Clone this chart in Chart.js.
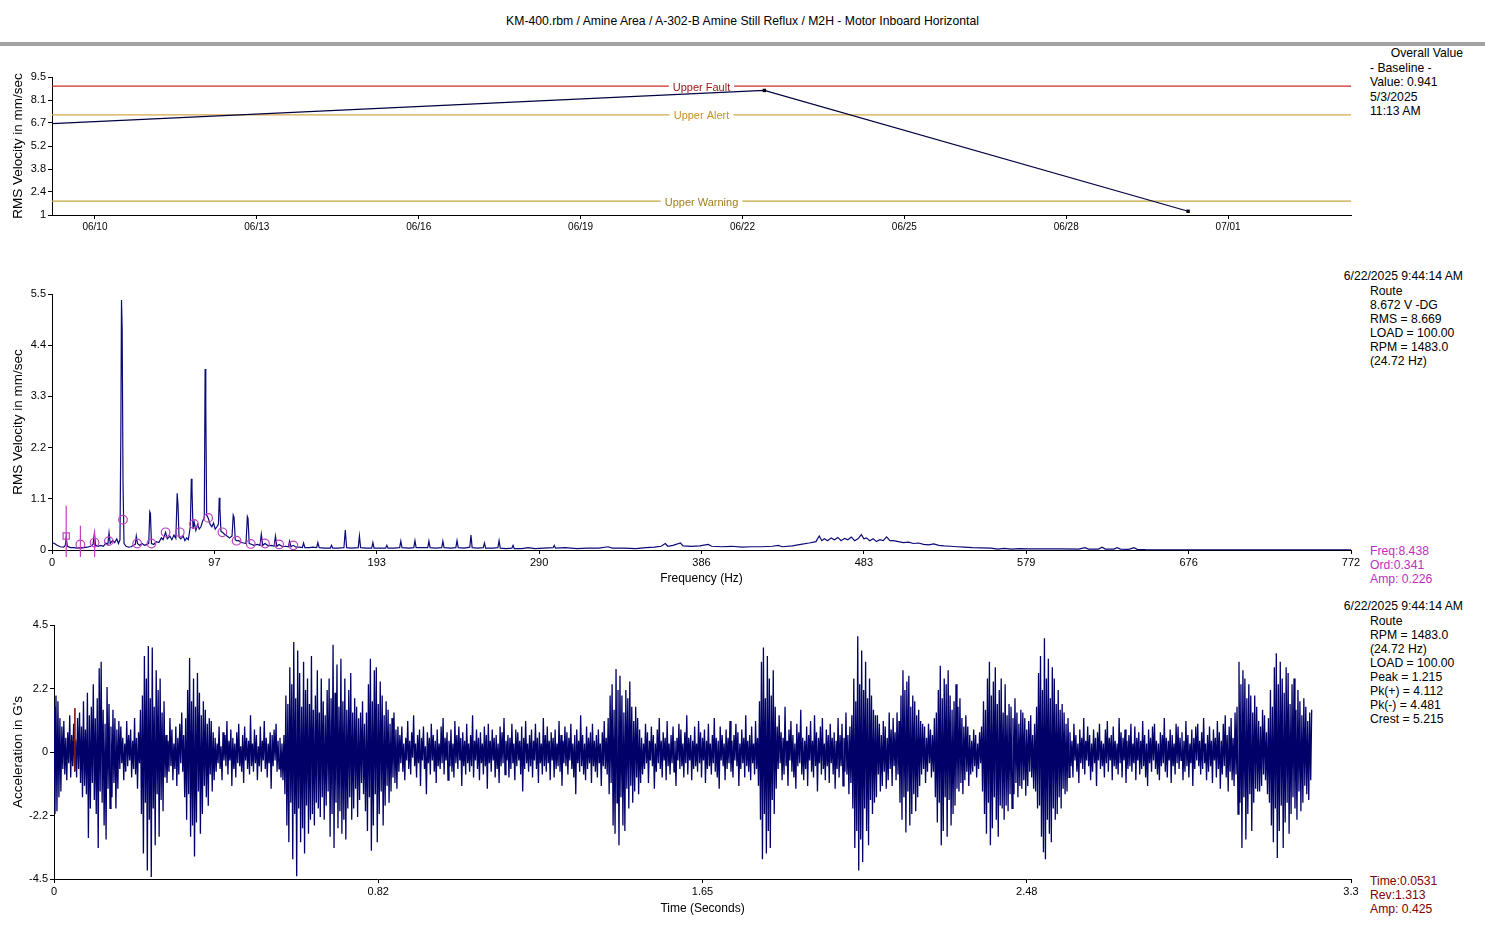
<!DOCTYPE html>
<html>
<head>
<meta charset="utf-8">
<script src="https://cdn.jsdelivr.net/npm/chart.js@4.4.1/dist/chart.umd.min.js"></script>
<style>
  body { margin: 0; background: #fff; width: 1485px; height: 951px; overflow: hidden; position: relative;
         font-family: 'Liberation Sans', Arial, sans-serif; font-size: 12.2px; color: #000; }
  canvas { position: absolute; left: 0; }
  .t { position: absolute; white-space: nowrap; line-height: 14px; }
  #bar { position: absolute; left: 0; top: 42px; width: 1485px; height: 4px; background: #a3a3a3; }
</style>
</head>
<body>
<div class="t" style="left:0;width:1485px;text-align:center;top:14px">KM-400.rbm / Amine Area / A-302-B Amine Still Reflux / M2H - Motor Inboard Horizontal</div>
<div id="bar"></div>

<div class="t" style="right:22px;top:46px">Overall Value</div>
<div class="t" style="left:1370px;top:61px;line-height:14.3px">- Baseline -<br>Value: 0.941<br>5/3/2025<br>11:13 AM</div>

<div class="t" style="right:22px;top:269px">6/22/2025 9:44:14 AM</div>
<div class="t" style="left:1370px;top:284px">Route<br>8.672 V -DG<br>RMS = 8.669<br>LOAD = 100.00<br>RPM = 1483.0<br>(24.72 Hz)</div>
<div class="t" style="left:1370px;top:544px;color:#c030c0">Freq:8.438<br>Ord:0.341<br>Amp: 0.226</div>

<div class="t" style="right:22px;top:599px">6/22/2025 9:44:14 AM</div>
<div class="t" style="left:1370px;top:614px">Route<br>RPM = 1483.0<br>(24.72 Hz)<br>LOAD = 100.00<br>Peak = 1.215<br>Pk(+) = 4.112<br>Pk(-) = 4.481<br>Crest = 5.215</div>
<div class="t" style="left:1370px;top:874px;color:#800000">Time:0.0531<br>Rev:1.313<br>Amp: 0.425</div>

<canvas id="trend" width="1485" height="240" style="top:0"></canvas>
<canvas id="spec" width="1485" height="330" style="top:260px"></canvas>
<canvas id="wave" width="1485" height="330" style="top:600px"></canvas>

<script>
// ---- overall value trend ----
const trendDates = ["2025-05-03T11:13:00", "2025-06-22T09:44:14", "2025-06-30T06:13:00"];
const trendValues = [0.941, 8.672, 1.23];
const trendRange = ["2025-06-09T04:54:00", "2025-07-03T06:40:00"];
const trendTickDates = ["2025-06-10", "2025-06-13", "2025-06-16", "2025-06-19", "2025-06-22", "2025-06-25", "2025-06-28", "2025-07-01"];
const trendTickLabels = ["06/10", "06/13", "06/16", "06/19", "06/22", "06/25", "06/28", "07/01"];
const trendYTicks = [1, 2.4167, 3.8333, 5.25, 6.6667, 8.0833, 9.5];
const trendYLabels = ["1", "2.4", "3.8", "5.2", "6.7", "8.1", "9.5"];
const alarmNames = ["Upper Fault", "Upper Alert", "Upper Warning"];
const alarmLevels = [8.94, 7.17, 1.85];
const alarmColors = ["#cc2a2a", "#d6a84a", "#c4a440"];
const alarmTextColors = ["#a01818", "#c8901e", "#a08018"];

// ---- spectrum [Hz, mm/sec] ----
const spectrum = [
  [0,0.16],[1.5,0.14],[3,0.1],[5,0.07],[7,0.06],[7.9,0.1],[8.44,0.28],[9.1,0.08],[11,0.05],[13,0.05],
  [15,0.04],[17,0.05],[19,0.05],[21,0.06],[23,0.08],[24.4,0.12],[25.2,0.36],[25.9,0.1],[27.5,0.08],[29,0.1],
  [30.5,0.08],[32,0.15],[33.2,0.12],[33.9,0.37],[34.6,0.14],[36,0.2],[37.2,0.16],[38.5,0.24],[39.5,0.14],[40.4,0.22],
  [40.9,2.45],[41.3,5.37],[41.7,4.75],[42.2,1.45],[42.8,0.14],[44,0.08],[45.5,0.06],[47,0.07],[48.5,0.1],[49.5,0.12],
  [50.1,0.3],[50.8,0.14],[52,0.1],[53.5,0.14],[55,0.1],[56.5,0.12],[57.5,0.14],[58.1,0.82],[58.5,0.78],[59.1,0.14],
  [60.5,0.12],[62,0.18],[63.5,0.16],[65,0.26],[66,0.22],[67.5,0.38],[68.5,0.24],[70,0.3],[71.2,0.22],[72.5,0.32],
  [73.6,0.25],[74.4,1.22],[74.9,0.95],[75.5,0.28],[76.5,0.24],[78,0.3],[79,0.2],[80,0.26],[81,0.22],[82.2,0.5],
  [82.8,1.53],[83.2,1.3],[83.8,0.45],[84.5,0.6],[85.5,0.42],[86.5,0.55],[87.5,0.45],[88.5,0.5],[89.5,0.62],[90.5,0.7],
  [91,3.89],[91.4,3.1],[91.9,0.75],[92.8,0.69],[94,0.55],[95,0.5],[96,0.58],[97,0.45],[98,0.5],[98.9,0.55],
  [99.4,1.12],[99.8,0.9],[100.4,0.4],[101.3,0.38],[102.5,0.34],[104,0.3],[105.5,0.26],[107,0.3],[107.7,0.75],[108.2,0.7],
  [108.9,0.22],[109.7,0.2],[111,0.2],[112.5,0.16],[114,0.15],[115.3,0.14],[116.1,0.72],[116.5,0.68],[117.2,0.14],[118.1,0.13],
  [120,0.1],[122,0.12],[123.6,0.1],[124.4,0.34],[125.2,0.1],[126.6,0.14],[128.5,0.09],[130.5,0.1],[132,0.08],[132.8,0.3],
  [133.6,0.08],[135,0.12],[137,0.07],[139,0.08],[140.5,0.07],[141.2,0.19],[142,0.07],[143.4,0.1],[145,0.06],[147,0.06],
  [148.8,0.05],[149.5,0.15],[150.3,0.05],[153,0.05],[155,0.06],[157.3,0.05],[158,0.16],[158.8,0.05],[162,0.04],[165.4,0.04],
  [166.1,0.1],[166.8,0.04],[170,0.04],[173.5,0.05],[174.3,0.43],[175.1,0.05],[178,0.04],[182,0.05],[182.7,0.3],[183.4,0.05],
  [187,0.04],[190,0.04],[190.7,0.16],[191.4,0.04],[195,0.04],[198.3,0.04],[199,0.1],[199.7,0.04],[203,0.04],[206.6,0.05],
  [207.3,0.19],[208,0.05],[212,0.04],[215,0.05],[215.7,0.2],[216.4,0.05],[220,0.05],[223.3,0.05],[224,0.19],[224.7,0.05],
  [228,0.04],[231.6,0.05],[232.3,0.19],[233,0.05],[237,0.04],[240,0.05],[240.7,0.2],[241.4,0.05],[245,0.04],[248.3,0.06],
  [249,0.32],[249.7,0.05],[253,0.04],[256.3,0.05],[257,0.15],[257.7,0.04],[262,0.04],[265,0.05],[265.7,0.2],[266.4,0.04],
  [270,0.03],[273.3,0.04],[274,0.1],[274.7,0.03],[279,0.03],[283,0.05],[287,0.03],[292,0.04],[297.8,0.05],[298.5,0.1],
  [299.2,0.04],[305,0.05],[312,0.03],[318,0.04],[325,0.04],[330.5,0.07],[333,0.04],[340,0.04],[347,0.03],[353,0.05],
  [358,0.06],[362,0.08],[364.5,0.14],[366,0.08],[369,0.1],[373.5,0.15],[375,0.09],[380,0.08],[385,0.09],[390,0.12],
  [392,0.08],[398,0.07],[404,0.08],[410,0.06],[416,0.07],[422,0.07],[428,0.08],[431.7,0.1],[434,0.07],[440,0.09],
  [445,0.12],[450,0.15],[454,0.18],[456,0.3],[457.5,0.2],[459,0.24],[461,0.2],[463,0.26],[465,0.22],[467,0.27],
  [469,0.2],[471,0.25],[473,0.22],[475,0.28],[477,0.2],[479,0.24],[481,0.33],[482.5,0.24],[484,0.26],[486,0.2],
  [488,0.24],[490,0.18],[492,0.22],[494,0.2],[496,0.28],[498,0.2],[500,0.2],[503,0.18],[506,0.16],[509,0.17],
  [512,0.14],[515,0.15],[518,0.12],[521,0.11],[524,0.13],[527,0.1],[530,0.09],[534,0.08],[538,0.07],[542,0.06],
  [547,0.05],[552,0.045],[558,0.04],[562,0.02],[566,0.035],[570,0.02],[575,0.03],[580,0.025],[590,0.025],[600,0.025],
  [610,0.02],[614,0.05],[616,0.02],[622,0.02],[624,0.06],[626,0.02],[631,0.02],[633,0.05],[635,0.02],[640,0.015],
  [643,0.05],[645,0.015],[650,0.01],[700,0.005],[772,0.005]
];
const specXTicks = [0, 96.5, 193, 289.5, 386, 482.5, 579, 675.5, 772];
const specXLabels = ["0", "97", "193", "290", "386", "483", "579", "676", "772"];
const specYTicks = [0, 1.1, 2.2, 3.3, 4.4, 5.5];
const specYLabels = ["0", "1.1", "2.2", "3.3", "4.4", "5.5"];
// harmonic cursor of 8.438 Hz
const harmonicHz = [8.44, 16.88, 25.31, 33.75, 42.19, 50.63, 59.07, 67.5, 75.94, 84.38, 92.82, 101.26, 109.69, 118.13, 126.57, 135.01, 143.45];
const harmonicAmp = [0.30, 0.12, 0.16, 0.19, 0.65, 0.14, 0.14, 0.38, 0.38, 0.56, 0.69, 0.38, 0.2, 0.13, 0.14, 0.12, 0.1];
const harmonicBarTop = [0.95, 0.52, 0.42];
const harmonicBarBottom = -0.15;

// ---- time waveform (G's), one sample every sampleDt seconds ----
const sampleDt = 0.0025;
const accel = [
  1.6,-2.2,2.0,-2.1,1.8,-1.6,1.2,-1.4,
  .9,-.6,1.1,-.8,.5,-1.0,.7,-.4,1.3,-.9,.6,-.5,1.0,-.7,.4,-.9,1.2,-.6,
  1.4,-1.1,.9,-1.6,1.8,-1.2,.8,-1.5,2.1,-3.05,1.3,-2.0,1.6,-1.1,2.4,-1.7,1.2,-2.2,1.9,-3.4,
  2.97,-1.4,3.2,-1.8,1.5,-2.6,1.0,-3.1,2.3,-1.3,1.7,-2.0,.9,-1.6,1.5,-1.1,1.2,-2.0,.8,-1.3,1.1,
  -.6,.9,-.4,.5,-1.0,.3,-.7,1.1,-.5,.6,-.3,.8,-.9,.4,-.6,1.2,-.8,.5,-1.3,.7,-.4,
  1.5,-2.2,2.0,-3.6,3.4,-1.8,2.6,-4.2,3.76,-2.4,1.9,-4.43,3.7,-2.0,1.6,-3.3,2.9,-1.5,2.2,-3.0,2.6,-1.7,1.4,-2.1,1.8,
  -.9,.6,-1.1,.4,-.7,1.2,-.5,.8,-1.0,.3,-.6,.9,-1.2,.5,-.8,1.0,-.4,1.4,-.7,.6,
  -1.6,1.2,-2.4,2.2,-1.5,3.33,-3.0,1.8,-2.6,2.6,-3.7,1.6,-2.5,2.8,-1.4,2.1,-2.9,1.3,-2.2,1.8,
  -1.2,1.5,-1.6,1.0,-1.9,1.2,-.8,1.1,-1.4,.7,-1.0,
  .5,-.7,.3,-.4,.9,-.6,.2,-1.0,.7,-.3,.6,-.5,1.1,-.8,.4,-.3,.8,-1.2,.5,-.6,
  .3,-.9,.7,-.4,1.0,-.5,.2,-.7,.6,-1.1,.9,-.3,.5,-.6,.4,-.8,1.3,-.5,.3,-.7,
  .8,-.4,.6,-1.0,.2,-.5,.9,-.7,.4,-.3,1.1,-.6,.5,-.9,.3,-.4,.7,-1.3,.6,-.5,
  .8,-.3,1.0,-.7,.4,-.6,.5,-.9,.3,-1.0,.6,
  -1.5,2.0,-2.6,1.7,-3.2,3.0,-1.8,2.4,-3.8,3.9,-2.2,1.9,-4.4,3.6,-2.0,2.8,-3.2,1.6,-2.7,3.2,
  -3.6,2.2,-1.9,2.6,-2.9,1.7,-2.4,3.4,-2.2,1.5,-2.6,2.0,-1.8,2.9,-2.0,1.4,-2.3,2.6,-1.6,1.8,
  -2.4,1.3,-1.9,2.2,-1.4,2.6,
  -3.0,1.9,-2.2,3.8,-3.4,2.1,-1.8,3.1,-2.7,1.6,-2.1,3.3,-2.9,1.8,-2.4,2.6,-3.1,1.5,-2.0,2.2,
  -1.6,2.8,-2.4,1.4,-2.0,1.9,-1.3,1.6,-2.3,1.2,-1.7,1.4,-1.1,1.8,-1.5,1.0,
  -2.1,1.4,-2.8,2.4,-1.6,3.3,-3.5,1.8,-2.6,2.9,-1.5,3.0,-3.2,1.7,-2.2,2.5,-1.4,2.0,-2.6,1.3,
  -1.9,1.8,-1.2,1.5,-1.8,1.0,-1.4,1.2,-.9,1.4,-1.1,.8,-1.3,.9,-.7,
  .6,-.4,.9,-.7,.3,-1.0,.5,-.3,1.1,-.6,.4,-.8,.7,-.2,1.3,-.5,.3,-.9,.6,-.4,
  .8,-1.2,.5,-.3,.9,-.6,.2,-1.5,.7,-.4,.5,-.8,1.0,-.3,.6,-.7,.4,-1.1,.8,-.5,
  .3,-.6,.9,-.4,1.2,-.8,.5,-.3,.7,-1.0,.4,-.5,.8,-.7,.3,-.9,1.1,-.4,.6,-.6,
  .9,-.3,.5,-1.2,.7,-.5,.4,-.8,1.0,-.4,.3,-.7,.6,-.5,1.3,-.9,.4,-.3,.8,-.6,
  .5,-1.0,.7,-.4,.3,-.8,.9,-.5,.6,-1.3,1.0,-.4,.4,-.7,.8,-.3,.5,-.9,.6,-.6,
  .3,-1.1,.9,-.5,.7,-.4,1.2,-.8,.4,-.3,.6,-.9,.5,-.6,1.0,-.4,.3,-1.0,.8,-.5,
  .7,-.3,.4,-.8,.9,-1.4,.5,-.6,1.1,-.4,.3,-.7,.6,-.5,.8,-.9,.4,-.3,1.0,-.6,
  .5,-1.1,.7,-.4,.3,-.8,1.2,-.5,.6,-.7,.9,-.4,.4,-1.0,.7,-.3,.5,-.9,.8,-.6,
  .3,-.5,1.1,-.7,.6,-1.2,.4,-.4,.9,-.5,.7,-.8,.5,-.3,1.0,-.6,.3,-.9,.6,-1.5,
  .8,-.4,.4,-.7,1.3,-.5,.6,-.8,.3,-1.0,.9,-.6,.5,-.4,.7,-1.1,1.0,-.5,.4,-.7,
  .6,-.9,.8,-.4,.3,-1.2,.7,-.5,1.1,-.6,.5,-.8,
  1.2,-1.5,2.0,-1.1,2.4,-2.6,1.5,-2.9,2.94,-1.8,2.2,-3.3,2.7,-1.6,2.0,-2.6,1.4,-2.8,2.2,-1.3,
  1.9,-2.0,2.5,-1.2,1.6,-1.8,1.1,-1.4,1.6,-.9,1.2,-1.5,.8,-1.1,
  .5,-.8,.3,-.6,1.0,-.4,.7,-1.1,.4,-.3,.9,-.5,.6,-1.3,.3,-.7,.8,-.4,1.2,-.6,
  .4,-.9,.7,-.3,.5,-1.0,1.1,-.5,.3,-.8,.6,-.4,.9,-.7,.4,-1.2,.5,-.3,1.0,-.6,
  .8,-.5,.3,-.9,.7,-.4,1.3,-.8,.5,-.3,.6,-1.0,.4,-.6,.9,-.5,.3,-.7,1.1,-.4,
  .7,-.9,.5,-.3,.8,-1.1,.4,-.6,1.0,-.5,.3,-.8,.6,-.4,1.2,-.7,.5,-.9,.4,-1.3,
  .9,-.3,.6,-.5,.3,-1.0,.8,-.6,.5,-.4,1.1,-.7,.4,-.9,.6,-.3,1.0,-.5,.7,-1.2,
  .3,-.6,.8,-.4,.5,-.9,1.3,-.5,.4,-.7,.6,-1.0,.9,-.4,.3,-.8,1.1,-.6,.5,-1.2,
  1.8,-2.4,3.2,-3.8,3.7,-2.2,1.9,-3.6,3.4,-2.8,2.6,-3.4,2.0,-1.7,2.9,-2.2,1.6,-1.3,
  .9,-.6,1.3,-.4,.7,-1.0,.5,-.8,1.6,-.5,.4,-1.2,.8,-.3,1.1,-.7,.6,-.9,.3,-1.3,
  1.0,-.5,.7,-.4,1.5,-.8,.5,-1.0,.4,-.6,.9,-1.2,.6,-.3,1.1,-.7,.4,-.9,1.3,-.5,
  .7,-1.4,.5,-.4,.9,-.8,1.2,-.6,.3,-1.0,.8,-.5,.6,-1.1,1.0,-.4,.5,-.8,.7,-1.3,
  .4,-.6,1.2,-.9,.6,-.5,1.0,-1.2,.5,-.7,1.4,-.8,.6,-1.5,.9,-1.1,1.3,
  -2.0,2.6,-3.4,1.8,-2.8,4.1,-4.2,2.4,-3.1,3.6,-3.9,2.2,-2.0,3.2,-2.8,1.9,-3.3,2.6,-1.7,2.0,
  -2.2,1.5,-1.8,1.3,-1.6,
  1.3,-.8,1.0,-1.4,.6,-1.2,1.1,-.7,.9,-1.3,.5,-1.0,1.4,-.6,.8,-1.2,1.2,-.5,.7,-1.0,1.4,-.8,1.1,
  -1.8,2.0,-2.4,2.9,-1.6,2.2,-2.85,2.5,-1.4,2.7,-2.6,1.6,-2.2,2.0,-1.5,1.8,-2.1,1.3,-1.6,1.5,-1.2,1.1,
  -.8,1.0,-.6,.9,-1.1,.5,-.7,1.0,-.4,.8,-.9,.6,-.7,1.2,
  -1.6,1.4,-2.5,2.2,-1.8,3.06,-3.3,1.9,-2.8,2.6,-1.6,2.4,-3.0,2.9,-1.7,2.0,-2.6,1.5,-2.2,1.8,
  -1.9,2.4,-1.3,1.6,-1.4,1.9,-1.1,1.2,-1.5,.9,-1.0,1.3,-.7,.9,-1.2,
  .6,-.8,.4,-.7,.8,-.5,.6,-.9,.3,-.6,.7,-.4,.9,
  -1.4,1.8,-2.2,1.5,-2.9,2.6,-1.8,3.2,-3.3,2.0,-2.7,2.5,-1.6,3.0,-2.4,1.7,-3.0,2.2,-1.9,2.6,
  -2.0,1.4,-2.4,2.4,-1.9,1.3,-2.1,1.7,-1.5,1.6,-2.0,1.2,-1.5,1.9,-1.1,1.4,-1.6,1.0,-1.2,1.5,-1.3,
  1.4,-1.0,1.2,-1.55,.8,-1.2,1.1,-.7,1.3,-.9,.6,-1.3,1.0,-1.4,
  1.6,-2.0,2.8,-1.9,3.4,-3.0,2.2,-3.55,4.03,-3.8,2.6,-2.4,3.3,-2.9,1.9,-3.2,3.0,-2.0,2.6,-2.4,
  1.7,-2.2,2.2,-1.6,1.5,-2.0,1.7,-1.3,1.4,-1.5,1.0,-1.4,1.2,-.9,
  .7,-.5,.4,-.9,1.0,-.3,.6,-.7,.3,-1.1,.8,-.4,.5,-.6,1.2,-.8,.4,-.3,.9,-.5,
  .6,-1.0,.3,-.7,.8,-.4,.5,-1.2,.7,-.3,1.0,-.6,.4,-.5,.3,-.9,.8,-.4,1.1,-.7,
  .5,-.3,.6,-1.0,.9,-.5,.4,-.6,.3,-.8,1.2,-.4,.7,-.9,.5,-.3,.8,-1.1,.4,-.6,
  .6,-.5,1.0,-.7,.3,-.4,.9,-1.0,.5,-.3,.7,-.8,.4,-.6,1.1,-.5,.6,-.9,.3,-1.2,
  .8,-.4,.5,-.7,.9,-.3,1.0,-.6,.4,-.8,.3,-1.0,.7,-.5,.6,-.4,1.2,-.7,.5,-.9,
  .4,-.3,.8,-1.1,.6,-.5,.3,-.8,1.0,-.4,.9,-.6,.5,-.3,.7,-1.0,.4,-.7,1.1,-.5,
  .6,-.9,.3,-.4,.8,-1.2,.5,-.6,.9,-.3,1.0,-.5,.4,-.8,.7,-.6,1.2,-.4,.3,-1.0,
  .6,-.7,.9,-.5,.4,-1.1,.8,-.3,.5,-.9,1.1,-.6,.7,-1.3,.4,-.8,1.0,-.5,1.3,-.9,
  .6,-1.4,.9,-.7,1.2,-1.0,.5,-1.2,1.4,-.8,
  1.6,-2.2,3.2,-1.8,2.4,-3.4,2.9,-1.6,2.6,-3.1,1.9,-2.2,2.4,-1.5,2.0,-2.8,1.4,-1.8,2.0,-1.3,1.6,-1.4,1.1,
  -1.4,.9,-1.2,1.5,-.8,1.3,-1.0,.7,-1.5,1.2,
  -1.8,2.2,-2.6,1.6,-3.2,3.0,-2.0,3.5,-3.76,2.4,-2.8,3.2,-1.9,2.6,-3.4,2.1,-2.5,3.0,-1.8,2.8,
  -2.9,1.7,-2.2,2.4,-1.6,2.6,-2.0,1.5,-2.4,2.2,-1.4,1.8,-2.1,1.3,-1.8,1.9,-1.2,1.6,-1.5,1.1,
  -1.7,1.4,-1.0,1.5
];
const waveXTicks = [0, 0.825, 1.65, 2.475, 3.3];
const waveXLabels = ["0", "0.82", "1.65", "2.48", "3.3"];
const waveYTicks = [-4.5, -2.25, 0, 2.25, 4.5];
const waveYLabels = ["-4.5", "-2.2", "0", "2.2", "4.5"];
const cursorTime = 0.0531;
const cursorAmp = 0.425;

const FONT = "'Liberation Sans', Arial, sans-serif";
Chart.defaults.font.family = FONT;
Chart.defaults.font.size = 11;
Chart.defaults.color = "#000";
Chart.defaults.animation = false;
Chart.defaults.plugins.legend.display = false;
Chart.defaults.plugins.tooltip.enabled = false;

const dayOf = (s) => (Date.parse(s + "Z") - Date.UTC(2025, 4, 31)) / 86400000;

function axis(min, max, values, labels, extra) {
  return Object.assign({
    type: "linear",
    min,
    max,
    afterBuildTicks: (scale) => {
      scale.ticks = values.map((v) => ({ value: v }));
    },
    ticks: { autoSkip: false, maxRotation: 0, padding: 2, callback: (v, i) => labels[i] },
    grid: { drawOnChartArea: false, drawTicks: true, tickLength: 4, color: "#000" },
    border: { display: true, color: "#000" },
  }, extra);
}

function yTitle(text) {
  return { display: true, text, font: { size: 13.5 }, padding: { top: 10, bottom: 0 } };
}

// ---- top: overall trend ----
const tMin = dayOf(trendRange[0]);
const tMax = dayOf(trendRange[1]);

const alarmLabels = {
  id: "alarmLabels",
  afterDatasetsDraw(chart) {
    const { ctx, chartArea, scales } = chart;
    const cx = (chartArea.left + chartArea.right) / 2;
    ctx.save();
    ctx.font = "11px " + FONT;
    ctx.textAlign = "center";
    ctx.textBaseline = "middle";
    alarmNames.forEach((name, i) => {
      const y = scales.y.getPixelForValue(alarmLevels[i]);
      const w = ctx.measureText(name).width + 8;
      ctx.fillStyle = "#fff";
      ctx.fillRect(cx - w / 2, y - 4, w, 8);
      ctx.fillStyle = alarmTextColors[i];
      ctx.fillText(name, cx, y + 1.5);
    });
    ctx.restore();
  },
};

new Chart(document.getElementById("trend"), {
  type: "line",
  data: {
    datasets: [
      {
        data: trendDates.map((d, i) => ({ x: dayOf(d), y: trendValues[i] })),
        borderColor: "#000040",
        borderWidth: 1.2,
        pointStyle: "rect",
        pointRadius: 2.4,
        pointBackgroundColor: "#000",
        pointBorderWidth: 0,
      },
      ...alarmLevels.map((v, i) => ({
        data: [{ x: tMin, y: v }, { x: tMax, y: v }],
        borderColor: alarmColors[i],
        borderWidth: 1.2,
        pointRadius: 0,
      })),
    ],
  },
  options: {
    responsive: false,
    layout: { padding: { left: 0, right: 134, top: 77, bottom: 0 } },
    scales: {
      x: axis(tMin, tMax, trendTickDates.map((d) => dayOf(d + "T00:00:00")), trendTickLabels, {
        afterFit: (s) => { s.height = 25; },
        ticks: { autoSkip: false, maxRotation: 0, padding: 2, font: { size: 10 }, callback: (v, i) => trendTickLabels[i] },
      }),
      y: axis(1, 9.5, trendYTicks, trendYLabels, {
        afterFit: (s) => { s.width = 52; },
        title: yTitle("RMS Velocity in mm/sec"),
      }),
    },
  },
  plugins: [alarmLabels],
});

// ---- middle: spectrum ----
const harmonicBars = [];
harmonicBarTop.forEach((top, i) => {
  harmonicBars.push({ x: harmonicHz[i], y: top }, { x: harmonicHz[i], y: harmonicBarBottom }, { x: harmonicHz[i], y: null });
});

new Chart(document.getElementById("spec"), {
  type: "line",
  data: {
    datasets: [
      {
        data: harmonicHz.slice(1).map((f, i) => ({ x: f, y: harmonicAmp[i + 1] })),
        showLine: false,
        pointStyle: "circle",
        pointRadius: 4.3,
        pointBorderColor: "#c040c0",
        pointBackgroundColor: "rgba(0,0,0,0)",
        pointBorderWidth: 1.2,
      },
      {
        data: [{ x: harmonicHz[0], y: harmonicAmp[0] }],
        showLine: false,
        pointStyle: "rect",
        pointRadius: 4.4,
        pointBorderColor: "#c040c0",
        pointBackgroundColor: "rgba(0,0,0,0)",
        pointBorderWidth: 1.2,
      },
      {
        data: harmonicBars,
        borderColor: "#c040c0",
        borderWidth: 1.2,
        pointRadius: 0,
        spanGaps: false,
        clip: false,
      },
      {
        data: spectrum.map(([f, a]) => ({ x: f, y: a })),
        borderColor: "#0a0a78",
        borderWidth: 1.2,
        pointRadius: 0,
      },
    ],
  },
  options: {
    responsive: false,
    layout: { padding: { left: 0, right: 134, top: 34, bottom: 0 } },
    scales: {
      x: axis(0, 772, specXTicks, specXLabels, {
        afterFit: (s) => { s.height = 40; },
        title: { display: true, text: "Frequency (Hz)", font: { size: 12 }, padding: { top: 0, bottom: 4 } },
      }),
      y: axis(0, 5.5, specYTicks, specYLabels, {
        afterFit: (s) => { s.width = 52; },
        title: yTitle("RMS Velocity in mm/sec"),
      }),
    },
  },
});

// ---- bottom: time waveform ----
new Chart(document.getElementById("wave"), {
  type: "line",
  data: {
    datasets: [
      {
        data: [
          { x: cursorTime, y: 1.55 }, { x: cursorTime, y: -0.67 }, { x: cursorTime, y: null },
          { x: cursorTime - 0.006, y: cursorAmp }, { x: cursorTime + 0.006, y: cursorAmp },
        ],
        borderColor: "#8b1a1a",
        borderWidth: 1,
        pointRadius: 0,
        spanGaps: false,
      },
      {
        data: accel.map((a, i) => ({ x: i * sampleDt, y: a })),
        borderColor: "#000068",
        borderWidth: 1.3,
        pointRadius: 0,
      },
    ],
  },
  options: {
    responsive: false,
    layout: { padding: { left: 0, right: 134, top: 25, bottom: 0 } },
    scales: {
      x: axis(0, 3.3, waveXTicks, waveXLabels, {
        afterFit: (s) => { s.height = 51; },
        title: { display: true, text: "Time (Seconds)", font: { size: 12 }, padding: { top: 0, bottom: 14 } },
      }),
      y: axis(-4.5, 4.5, waveYTicks, waveYLabels, {
        afterFit: (s) => { s.width = 54; },
        title: yTitle("Acceleration in G's"),
      }),
    },
  },
});
</script>
</body>
</html>
